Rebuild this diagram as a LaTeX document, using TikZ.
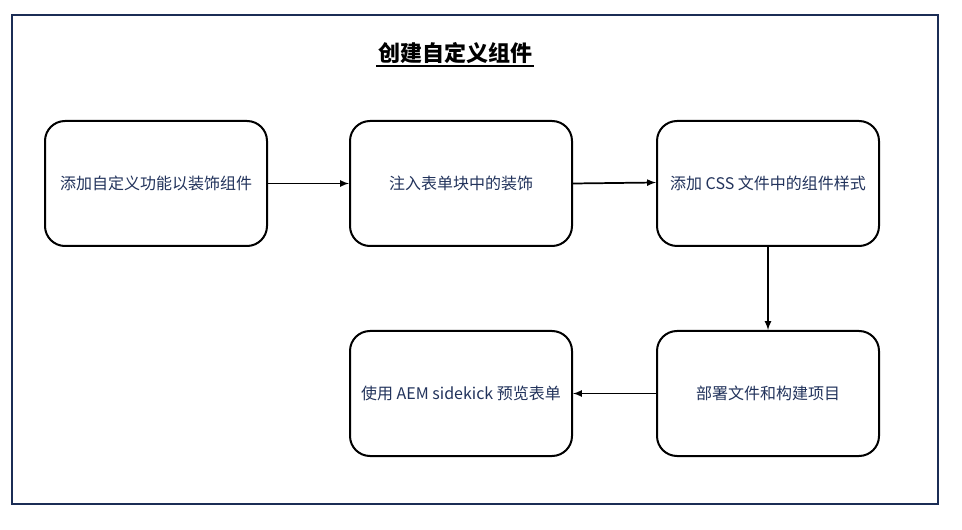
\documentclass[tikz,border=0pt]{standalone}
\usepackage{fontspec}
\setmainfont{Noto Sans CJK SC}
\usepackage{xcolor}
\usepackage{tikz}
\definecolor{navytext}{HTML}{22335C}
\definecolor{navyframe}{HTML}{1B2D55}
\newcommand{\thickul}[1]{\setbox0\hbox{#1}\rlap{\copy0}\kern-1.5pt\rule[-4pt]{\dimexpr\wd0+3pt\relax}{1.6pt}}

\begin{document}
\begin{tikzpicture}[x=0.75pt, y=-0.75pt,
    stepbox/.style={draw=black, line width=1.5pt, rounded corners=15pt,
      minimum width=222*0.75pt, minimum height=125*0.75pt,
      font=\fontsize{12pt}{14pt}\selectfont, text=navytext, fill=white},
    flow/.style={-latex, line width=1.3pt, black}]
  \useasboundingbox (0,0) rectangle (962,530);
  \draw[navyframe, line width=1.1pt] (12,15) rectangle (938,504);
  \node[font=\fontsize{16.5pt}{18pt}\selectfont\bfseries, text=black] (title) at (456,55) {\thickul{创建自定义组件}};
  \node[stepbox] (decorate) at (156,183.5) {添加自定义功能以装饰组件};
  \node[stepbox] (inject) at (461,183.5) {注入表单块中的装饰};
  \node[stepbox] (styles) at (768,183.5) {添加 CSS 文件中的组件样式};
  \node[stepbox] (deploy) at (768,393.5) {部署文件和构建项目};
  \node[stepbox] (preview) at (461,393.5) {使用 AEM sidekick 预览表单};
  \draw[flow] (decorate) -- (inject);
  \draw[flow] (inject.east) -- ([yshift=0.75pt]styles.west);
  \draw[flow] (styles) -- (deploy);
  \draw[flow] (deploy) -- (preview);
\end{tikzpicture}
\end{document}
